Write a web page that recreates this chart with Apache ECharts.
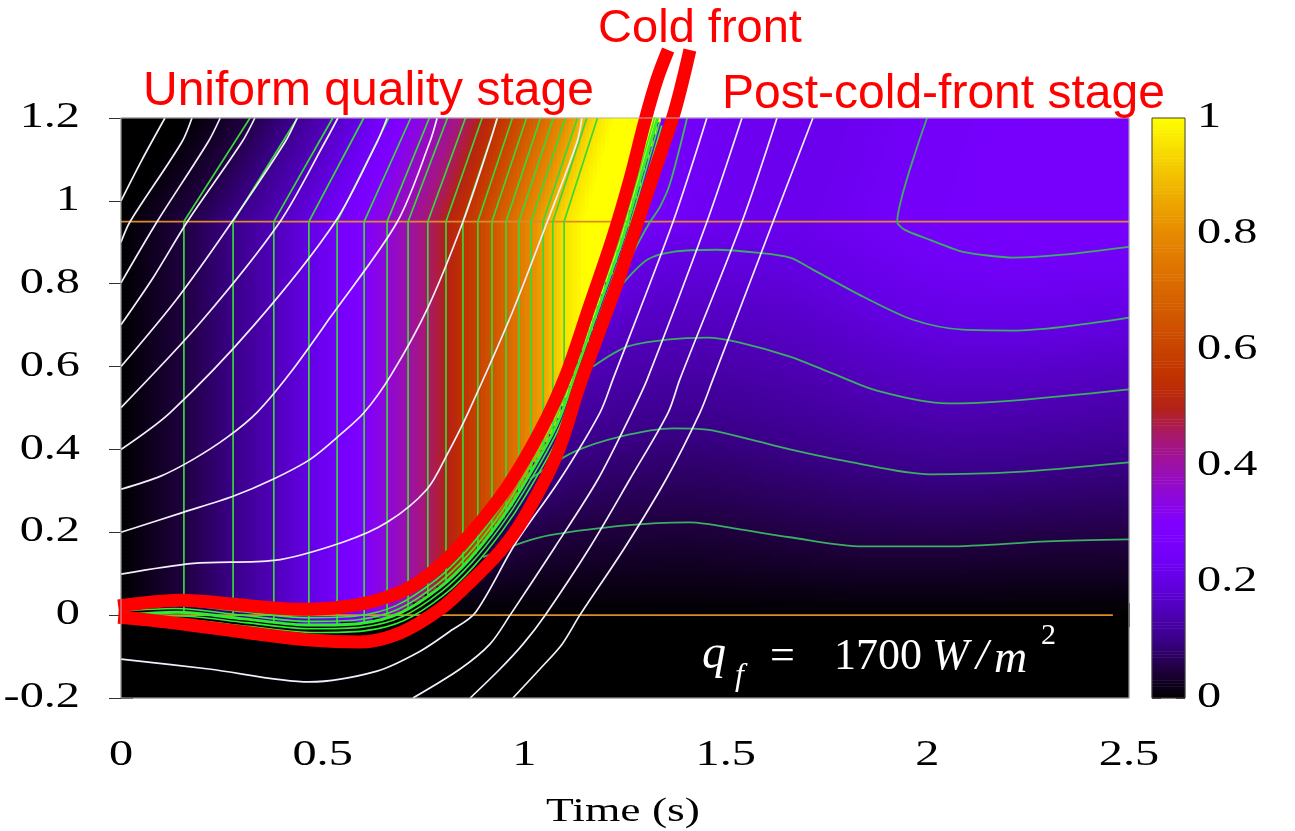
<!DOCTYPE html>
<html>
<head>
<meta charset="utf-8">
<title>Cold front</title>
<script src="https://cdn.jsdelivr.net/npm/echarts@6.0.0/dist/echarts.min.js"></script>
<style>
html,body{margin:0;padding:0;background:#ffffff;}
#chart{width:1295px;height:831px;}
</style>
</head>
<body>
<div id="chart"></div>
<script>
// ================= DATA =================
const xTickLabels = ['0', '0.5', '1', '1.5', '2', '2.5'];
const yTickLabels = ['-0.2', '0', '0.2', '0.4', '0.6', '0.8', '1', '1.2'];
const colorbarTickLabels = ['0', '0.2', '0.4', '0.6', '0.8', '1'];
const xAxisTitle = 'Time (s)';
const stageTitles = ['Uniform quality stage', 'Cold front', 'Post-cold-front stage'];

// uniform-quality stage: time at which each quality contour is reached (0 < y < 0.95)
const preLevels = [0.05, 0.10, 0.15, 0.20, 0.25, 0.30, 0.35, 0.40, 0.45, 0.50, 0.55, 0.60, 0.65, 0.70, 0.75, 0.80, 0.85, 0.90, 0.95];
const preLevelTimes = [0.156, 0.278, 0.379, 0.466, 0.536, 0.603, 0.660, 0.712, 0.761, 0.806, 0.848, 0.885, 0.920, 0.955, 0.987, 1.017, 1.047, 1.071, 1.099];
const preFullTime = 1.15;

// cold front (middle of the band)
const frontT = [0, 0.139, 0.303, 0.469, 0.593, 0.692, 0.791, 0.866, 0.936, 0.993, 1.081, 1.138, 1.188, 1.238, 1.257, 1.331];
const frontY = [0.0, 0.007, -0.009, -0.024, -0.020, 0.005, 0.067, 0.137, 0.222, 0.306, 0.460, 0.614, 0.752, 0.889, 0.950, 1.2];
// quality right behind the front, by height
const frontEdgeY = [0, 0.14, 0.33, 0.60, 0.79, 0.95];
const frontEdgeV = [0, 0.05, 0.10, 0.15, 0.20, 0.27];
// quality at the heated-section outlet (y = 0.95) after the front
const topT = [1.257, 1.32, 1.5, 1.7, 1.925, 2.2, 2.5];
const topV = [0.27, 0.25, 0.225, 0.22, 0.25, 0.262, 0.258];
// transit time from y = 0.95 to y = 1.2 (adiabatic section)
const shiftT = [0, 0.09, 0.164, 0.275, 0.394, 0.531, 0.685, 0.848, 1.057, 1.257, 1.369, 1.453, 1.54, 1.617, 1.925, 2.5];
const shiftS = [0.154, 0.156, 0.165, 0.160, 0.144, 0.129, 0.100, 0.086, 0.085, 0.074, 0.084, 0.087, 0.087, 0.095, 0.074, 0.074];

// post-cold-front quality contours
const postLevels = [0.05, 0.10, 0.15, 0.20, 0.25];
const postE = [[0.898,0.140],[1.039,0.188],[1.205,0.212],[1.329,0.222],[1.411,0.224],[1.535,0.207],[1.659,0.188],[1.840,0.166],[2.049,0.166],[2.297,0.178],[2.5,0.183]];
const postD = [[1.014,0.328],[1.121,0.393],[1.238,0.431],[1.369,0.451],[1.453,0.448],[1.560,0.424],[1.659,0.400],[1.801,0.371],[2.006,0.340],[2.212,0.345],[2.5,0.369]];
const postC = [[1.171,0.600],[1.255,0.648],[1.354,0.665],[1.453,0.670],[1.535,0.658],[1.659,0.624],[1.758,0.586],[1.882,0.540],[2.049,0.511],[2.212,0.518],[2.5,0.545]];
const postB = [[1.238,0.793],[1.305,0.858],[1.369,0.877],[1.478,0.882],[1.577,0.875],[1.659,0.863],[1.716,0.834],[1.840,0.769],[1.964,0.713],[2.088,0.689],[2.212,0.687],[2.336,0.696],[2.5,0.718]];
const postA = [[1.925,0.949],[1.944,0.930],[2.006,0.906],[2.088,0.877],[2.212,0.863],[2.336,0.870],[2.5,0.889]];
const frontHugLine = [[1.404,1.2],[1.362,1.043],[1.337,0.986],[1.312,0.949],[1.287,0.906],[1.262,0.858],[1.230,0.786],[1.195,0.682]];

// white particle paths
const pathW1 = [[0,1.0],[0.052,1.099],[0.109,1.2]];
const pathW2 = [[0,0.9],[0.022,0.949],[0.151,1.142],[0.176,1.2]];
const pathW3 = [[0,0.802],[0.089,0.949],[0.216,1.142],[0.246,1.2]];
const pathW4 = [[0,0.701],[0.08,0.815],[0.164,0.949],[0.30,1.142],[0.332,1.2]];
const pathW5 = [[0,0.6],[0.14,0.765],[0.275,0.949],[0.407,1.142],[0.437,1.2]];
const pathW6 = [[0,0.501],[0.2,0.71],[0.394,0.949],[0.506,1.142],[0.538,1.2]];
const pathW7 = [[0,0.4],[0.122,0.489],[0.33,0.70],[0.531,0.949],[0.635,1.142],[0.66,1.2]];
const pathW8 = [[0,0.304],[0.097,0.335],[0.179,0.376],[0.263,0.429],[0.337,0.489],[0.42,0.585],[0.52,0.72],[0.685,0.949],[0.766,1.142],[0.784,1.2]];
const pathW9 = [[0,0.2],[0.154,0.248],[0.278,0.287],[0.377,0.328],[0.469,0.376],[0.543,0.435],[0.603,0.489],[0.67,0.58],[0.76,0.74],[0.848,0.949],[0.915,1.142],[0.933,1.2]];
const pathW10 = [[0,0.099],[0.18,0.125],[0.38,0.132],[0.55,0.176],[0.66,0.224],[0.759,0.304],[0.81,0.39],[0.861,0.489],[0.97,0.73],[1.057,0.949],[1.131,1.142],[1.143,1.2]];
const pathW11 = [[0,-0.106],[0.218,-0.13],[0.466,-0.161],[0.635,-0.135],[0.742,-0.087],[0.816,-0.039],[0.878,0.005],[0.977,0.171],[1.089,0.328],[1.188,0.489],[1.22,0.569],[1.369,0.949],[1.453,1.2]];
const pathR2 = [[0.724,-0.2],[0.841,-0.130],[0.915,-0.070],[0.965,0.0],[1.076,0.164],[1.183,0.328],[1.267,0.489],[1.305,0.569],[1.453,0.949],[1.540,1.2]];
const pathR3 = [[0.866,-0.2],[0.940,-0.130],[0.997,-0.070],[1.052,0.0],[1.163,0.164],[1.262,0.328],[1.357,0.489],[1.386,0.569],[1.540,0.949],[1.627,1.2]];
const pathR4 = [[0.972,-0.2],[1.039,-0.130],[1.094,-0.070],[1.138,0.0],[1.250,0.164],[1.352,0.328],[1.436,0.489],[1.468,0.569],[1.617,0.949],[1.716,1.2]];

// red annotation strokes
const redUpper = [[-0.007,0.022],[0.072,0.031],[0.146,0.036],[0.303,0.024],[0.444,0.014],[0.543,0.019],[0.635,0.036],[0.717,0.067],[0.791,0.120],[0.866,0.195],[0.957,0.308],[1.039,0.443],[1.101,0.573],[1.163,0.749],[1.218,0.906],[1.262,1.051],[1.300,1.195],[1.329,1.292],[1.357,1.364]];
const redLower = [[-0.007,-0.005],[0.072,-0.012],[0.196,-0.027],[0.320,-0.043],[0.469,-0.060],[0.593,-0.065],[0.692,-0.043],[0.791,0.014],[0.866,0.080],[0.940,0.154],[0.997,0.231],[1.081,0.388],[1.138,0.557],[1.188,0.689],[1.238,0.822],[1.287,0.966],[1.337,1.111],[1.374,1.219],[1.411,1.364]];

// horizontal section boundaries
const boundaryLevels = [0, 0.95];

// ================= FIELD =================
function interp(xs, ys, x) {
  const n = xs.length;
  if (x <= xs[0]) return ys[0];
  if (x >= xs[n - 1]) return ys[n - 1];
  for (let i = 1; i < n; i++) {
    if (x <= xs[i]) {
      const d = xs[i] - xs[i - 1];
      const f = d === 0 ? 0 : (x - xs[i - 1]) / d;
      return ys[i - 1] + f * (ys[i] - ys[i - 1]);
    }
  }
  return ys[n - 1];
}
const preTs = [0].concat(preLevelTimes, [preFullTime]);
const preVs = [0].concat(preLevels, [1]);
const postContours = [postE, postD, postC, postB, postA];
const frontOutletT = 1.257;
function preValue(t) { return interp(preTs, preVs, t); }
function postValue(t, y) {
  if (y <= 0) return 0;
  const pts = [[0, 0]];
  postContours.forEach((c, k) => {
    if (t >= c[0][0] && t <= c[c.length - 1][0]) {
      pts.push([interp(c.map(p => p[0]), c.map(p => p[1]), t), postLevels[k]]);
    }
  });
  if (t < frontOutletT) {
    const yf = interp(frontT, frontY, t);
    pts.push([yf, interp(frontEdgeY, frontEdgeV, yf)]);
  } else {
    pts.push([0.95, interp(topT, topV, t)]);
  }
  pts.sort((a, b) => a[0] - b[0]);
  return interp(pts.map(p => p[0]), pts.map(p => p[1]), y);
}
function baseValue(t, y) {
  if (t < 0) return 0;
  if (t < frontOutletT && y > interp(frontT, frontY, t)) return preValue(t);
  return postValue(t, y);
}
function fieldValue(t, y) {
  if (y > 0.95) {
    const s = interp(shiftT, shiftS, t) * (y - 0.95) / 0.25;
    return baseValue(t - s, 0.95);
  }
  return baseValue(t, y);
}

const NT = 252, NY = 145;
const T_MIN = 0, T_MAX = 2.5, Y_MIN = -0.2, Y_MAX = 1.2;
const heatData = [];
for (let i = 0; i < NT; i++) {
  const t = T_MIN + (i + 0.5) * (T_MAX - T_MIN) / NT;
  for (let j = 0; j < NY; j++) {
    const y = Y_MIN + (j + 0.5) * (Y_MAX - Y_MIN) / NY;
    heatData.push([i, j, Math.max(0, Math.min(1, fieldValue(t, y)))]);
  }
}
const NCB = 200;
const cbData = [];
for (let k = 0; k < NCB; k++) cbData.push([0, k, (k + 0.5) / NCB]);

// contour polylines derived from the arrays
function shiftAt(t) { return interp(shiftT, shiftS, t); }
const preContourLines = preLevelTimes.map(tk => [
  [tk, interp(frontT, frontY, tk)], [tk, 0.95], [tk + shiftAt(tk), 1.2]
]);
const postALine = [[postA[0][0] + shiftAt(postA[0][0]), 1.2]].concat(postA);
const frontPairs = frontT.map((t, i) => [t, frontY[i]]);

// ================= STYLE =================
const cmap = ['#000000','#200040','#3a0088','#5000b8','#6400e4','#7400fa','#8000ff','#8e08d8','#9c10a8','#a81870','#b42218','#c03000','#c84200','#d05400','#d86600','#e07800','#e68a00','#eca400','#f2c000','#f8e000','#ffff00'];
const G = { left: 121, top: 118, width: 1008, height: 580 };
const CB = { left: 1152, top: 118, width: 33, height: 580 };

const chart = echarts.init(document.getElementById('chart'), null, { renderer: 'canvas' });

function lineS(data, color, width, z, opts) {
  return Object.assign({
    type: 'line', xAxisIndex: 2, yAxisIndex: 2, data: data, symbol: 'none',
    smooth: 0.3, silent: true, clip: true, z: z,
    lineStyle: { color: color, width: width }
  }, opts || {});
}

const series = [
  { type: 'heatmap', xAxisIndex: 0, yAxisIndex: 0, data: heatData, progressive: 0, silent: true,
    itemStyle: { borderWidth: 0 }, emphasis: { disabled: true }, z: 1 },
  { type: 'heatmap', xAxisIndex: 1, yAxisIndex: 1, data: cbData, progressive: 0, silent: true,
    itemStyle: { borderWidth: 0 }, emphasis: { disabled: true }, z: 1 }
];
// orange section boundaries
boundaryLevels.forEach((lv, k) => {
  series.push(lineS([[0, lv], [k === 0 ? 2.46 : 2.5, lv]], '#dc8a2c', 1.7, 3, { smooth: false }));
});
// pre-front quality contours (green)
preContourLines.forEach(l => series.push(lineS(l, '#38d838', 1.7, 4, { smooth: false })));
// post-front contours
postContours.slice(0, 4).forEach(c => series.push(lineS(c, '#3aae62', 1.8, 4)));
series.push(lineS(postALine, '#3aae62', 1.8, 4, { smooth: 0.2 }));
series.push(lineS(frontHugLine, '#3cb860', 1.8, 4));
// white paths
[pathW1, pathW2, pathW3, pathW4, pathW5, pathW6, pathW7, pathW8, pathW9, pathW10, pathW11, pathR2, pathR3, pathR4]
  .forEach(p => series.push(lineS(p, '#f3eefb', 1.7, 5)));
// green front band
[-2, -1, 0, 1, 2].forEach(k => {
  series.push(lineS(frontPairs.map(p => [p[0] + k * 0.005, p[1] - k * 0.009]), '#2cf02c', k === 0 ? 3 : 1.6, 6));
});
// red strokes
series.push(lineS(redUpper, '#ff0000', 13, 8, { clip: false, smooth: 0.35, lineStyle: { color: '#ff0000', width: 13, cap: 'butt', join: 'round' } }));
series.push(lineS(redLower, '#ff0000', 13, 8, { clip: false, smooth: 0.35, lineStyle: { color: '#ff0000', width: 13, cap: 'butt', join: 'round' } }));

const tickStyle = { show: true, inside: true, length: 12, lineStyle: { color: '#333', width: 1 } };
const option = {
  animation: false,
  backgroundColor: '#ffffff',
  grid: [
    Object.assign({ show: false }, G),
    Object.assign({ show: false }, CB),
    Object.assign({ show: true, borderColor: '#b4b4b4', borderWidth: 1, backgroundColor: 'transparent', z: 9 }, G),
    Object.assign({ show: true, borderColor: '#444', borderWidth: 1, backgroundColor: 'transparent', z: 9 }, CB)
  ],
  xAxis: [
    { type: 'category', gridIndex: 0, data: Array.from({ length: NT }, (_, i) => i), show: false, boundaryGap: true },
    { type: 'category', gridIndex: 1, data: [0], show: false },
    { type: 'value', gridIndex: 2, min: 0, max: 2.5, interval: 0.5, position: 'bottom',
      axisLine: { show: false }, axisTick: tickStyle, axisLabel: { show: false }, splitLine: { show: false } },
    { type: 'value', gridIndex: 2, min: 0, max: 2.5, interval: 0.5, position: 'top',
      axisLine: { show: false }, axisTick: tickStyle, axisLabel: { show: false }, splitLine: { show: false } },
    { type: 'value', gridIndex: 3, min: 0, max: 1, show: false }
  ],
  yAxis: [
    { type: 'category', gridIndex: 0, data: Array.from({ length: NY }, (_, j) => j), show: false, boundaryGap: true },
    { type: 'category', gridIndex: 1, data: Array.from({ length: NCB }, (_, j) => j), show: false },
    { type: 'value', gridIndex: 2, min: -0.2, max: 1.2, interval: 0.2, position: 'left',
      axisLine: { show: false }, axisTick: tickStyle, axisLabel: { show: false }, splitLine: { show: false } },
    { type: 'value', gridIndex: 2, min: -0.2, max: 1.2, interval: 0.2, position: 'right',
      axisLine: { show: false }, axisTick: tickStyle, axisLabel: { show: false }, splitLine: { show: false } },
    { type: 'value', gridIndex: 3, min: 0, max: 1, interval: 0.2, position: 'left',
      axisLine: { show: false }, axisTick: { show: true, inside: true, length: 9, lineStyle: { color: '#6a4a2a', width: 1 } },
      axisLabel: { show: false }, splitLine: { show: false } },
    { type: 'value', gridIndex: 3, min: 0, max: 1, interval: 0.2, position: 'right',
      axisLine: { show: false }, axisTick: { show: true, inside: true, length: 9, lineStyle: { color: '#6a4a2a', width: 1 } },
      axisLabel: { show: false }, splitLine: { show: false } }
  ],
  visualMap: {
    type: 'continuous', show: false, min: 0, max: 1, dimension: 2, seriesIndex: [0, 1],
    inRange: { color: cmap }
  },
  series: series
};
chart.setOption(option);

// ================= TEXT (positioned through the axes) =================
const SERIF = '"Liberation Serif", "Times New Roman", serif';
const SANS = '"Liberation Sans", Arial, sans-serif';
function txt(text, x, y, o) {
  o = o || {};
  return {
    type: 'text', x: x, y: y, z: 100, scaleX: o.scaleX || 1, silent: true,
    style: {
      text: text, fill: o.fill || '#000', fontSize: o.size || 35, fontFamily: o.family || SERIF,
      fontStyle: o.italic ? 'italic' : 'normal',
      align: o.align || 'center', verticalAlign: 'middle',
      textAlign: o.align || 'center', textVerticalAlign: 'middle'
    }
  };
}
const graphics = [];
const STRETCH = 1.38;
xTickLabels.forEach(s => {
  const px = chart.convertToPixel({ xAxisIndex: 2 }, parseFloat(s));
  graphics.push(txt(s, px, 756, { scaleX: STRETCH }));
});
yTickLabels.forEach(s => {
  const py = chart.convertToPixel({ yAxisIndex: 2 }, parseFloat(s));
  graphics.push(txt(s, 80, py, { align: 'right', scaleX: STRETCH }));
});
colorbarTickLabels.forEach(s => {
  const py = chart.convertToPixel({ yAxisIndex: 4 }, parseFloat(s));
  graphics.push(txt(s, 1197, py, { align: 'left', scaleX: STRETCH }));
});
graphics.push(txt(xAxisTitle, 623, 812, { size: 33, scaleX: 1.38 }));
// red stage titles
graphics.push(txt(stageTitles[0], 143, 92, { align: 'left', size: 48, family: SANS, fill: '#ff0000' }));
graphics.push(txt(stageTitles[1], 700, 29, { align: 'center', size: 47, family: SANS, fill: '#ff0000' }));
graphics.push(txt(stageTitles[2], 722, 95, { align: 'left', size: 48, family: SANS, fill: '#ff0000' }));
// heat flux label
graphics.push(txt('q', 702, 655, { align: 'left', size: 48, italic: true, fill: '#fff' }));
graphics.push(txt('f', 735, 677, { align: 'left', size: 32, italic: true, fill: '#fff' }));
graphics.push(txt('=', 770, 657, { align: 'left', size: 44, fill: '#fff' }));
graphics.push(txt('1700', 834, 657, { align: 'left', size: 44, fill: '#fff' }));
graphics.push(txt('W', 932, 657, { align: 'left', size: 44, italic: true, fill: '#fff' }));
graphics.push(txt('/', 976, 657, { align: 'left', size: 44, italic: true, fill: '#fff' }));
graphics.push(txt('m', 994, 660, { align: 'left', size: 46, italic: true, fill: '#fff' }));
graphics.push(txt('2', 1041, 636, { align: 'left', size: 30, fill: '#fff' }));
chart.setOption({ graphic: graphics });
</script>
</body>
</html>
